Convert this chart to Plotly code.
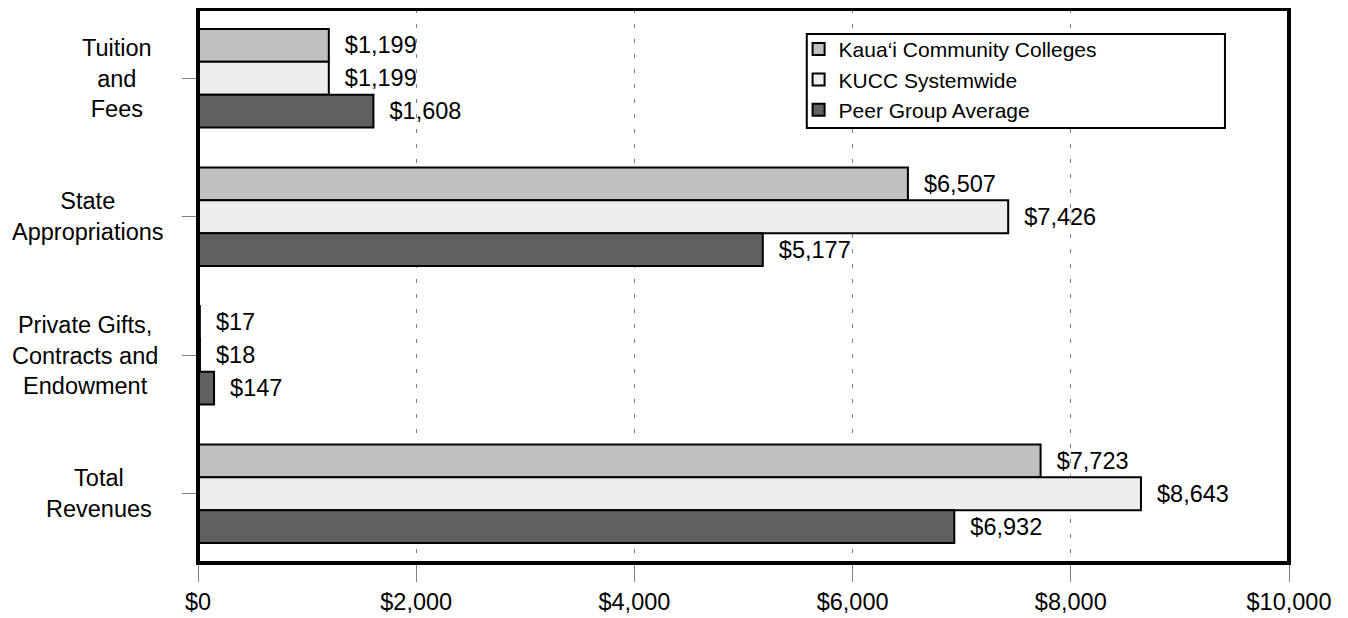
import plotly.graph_objects as go

categories = ["Tuition and Fees", "State Appropriations",
              "Private Gifts, Contracts and Endowment", "Total Revenues"]
category_labels = ["Tuition<br>and<br>Fees", "State<br>Appropriations",
                   "Private Gifts,<br>Contracts and<br>Endowment", "Total<br>Revenues"]
series_names = ["Kaua\u2018i Community Colleges", "KUCC Systemwide", "Peer Group Average"]
kauai = [1199, 6507, 17, 7723]
kucc = [1199, 7426, 18, 8643]
peer = [1608, 5177, 147, 6932]
x_ticks = [0, 2000, 4000, 6000, 8000, 10000]

# layout: right edge (paper x) of each category label block
label_x = [-0.0403, -0.0293, -0.0348, -0.0403]

colors = ["#c0c0c0", "#eeeeee", "#606060"]
FONT = "Liberation Sans, Arial, sans-serif"

fig = go.Figure()
for name, vals, col in zip(series_names, [kauai, kucc, peer], colors):
    fig.add_trace(go.Bar(
        y=categories, x=vals, orientation="h", name=name,
        marker=dict(color=col, line=dict(color="black", width=2)),
        text=["\u00a0\u00a0$" + f"{v:,}" for v in vals],
        textposition="outside", constraintext="none", cliponaxis=False,
        textfont=dict(family=FONT, size=23.5, color="black"),
    ))

for cat, lab, lx in zip(categories, category_labels, label_x):
    fig.add_annotation(x=lx, xref="paper", y=cat, yref="y", text=lab,
                       showarrow=False, xanchor="right", align="center",
                       font=dict(family=FONT, size=23.5, color="black"))

# legend frame
fig.add_shape(type="rect", xref="paper", yref="paper", x0=0.558, x1=0.9413,
              y0=0.7852, y1=0.9549, line=dict(color="black", width=2),
              fillcolor="white", layer="above")
# plot frame
fig.add_shape(type="rect", xref="paper", yref="paper", x0=0, x1=1, y0=0, y1=1,
              line=dict(color="black", width=4), layer="above")

fig.update_layout(
    width=1340, height=610,
    margin=dict(l=190, r=59, t=1, b=55),
    paper_bgcolor="white", plot_bgcolor="white",
    barmode="group", bargap=0.29, bargroupgap=0,
    font=dict(family=FONT, color="black"),
    showlegend=True,
    legend=dict(x=0.5505, y=0.964, xanchor="left", yanchor="top",
                bgcolor="rgba(0,0,0,0)", borderwidth=0,
                font=dict(family=FONT, size=21, color="black"),
                traceorder="normal", tracegroupgap=0),
    xaxis=dict(range=[0, 10000], tickvals=x_ticks,
               ticktext=["$" + f"{v:,}" for v in x_ticks],
               showgrid=True, gridcolor="#808080", griddash="4px,11px", gridwidth=1,
               ticks="outside", ticklen=18, tickcolor="#808080", tickwidth=1,
               tickfont=dict(family=FONT, size=23.5, color="black"),
               zeroline=False, showline=False, fixedrange=True),
    yaxis=dict(autorange="reversed", showticklabels=False,
               ticks="outside", ticklen=15, tickcolor="#808080", tickwidth=1,
               showgrid=False, zeroline=False, showline=False),
)

fig.write_html("out.html")
